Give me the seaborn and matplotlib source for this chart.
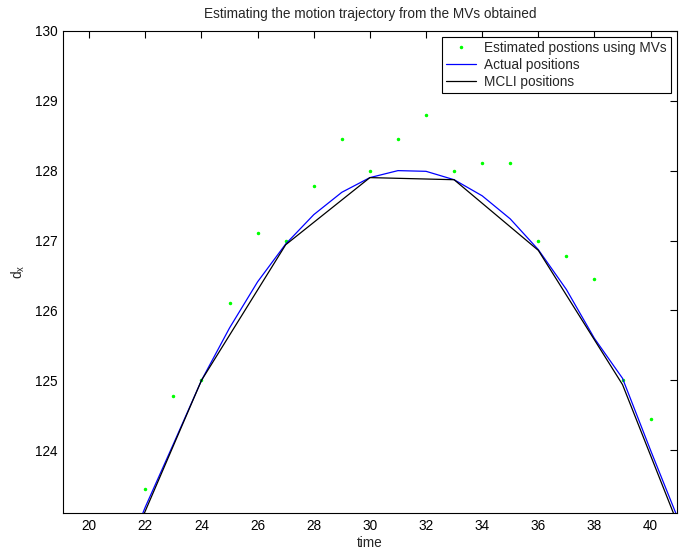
import numpy as np
import pandas as pd
import matplotlib
matplotlib.use('Agg')
import matplotlib.pyplot as plt
import seaborn as sns

# 읽어낸 값 (그림에서 추정)
est_t = [22, 23, 24, 25, 26, 27, 28, 29, 30, 31, 32, 33, 34, 35, 36, 37, 38, 39, 40]
est_dx = [123.45, 124.78, 125.0, 126.11, 127.11, 127.0, 127.78, 128.45, 128.0, 128.45,
          128.8, 128.0, 128.11, 128.11, 127.0, 126.78, 126.45, 125.0, 124.45]

act_t = list(range(21, 42))
act_dx = [122.2, 123.19, 124.09, 125.0, 125.75, 126.41, 126.95, 127.37, 127.69, 127.9, 128.0,
          127.99, 127.87, 127.64, 127.31, 126.87, 126.30, 125.6, 125.03, 124.0, 123.0]

mcli_t = [21, 24, 27, 30, 33, 36, 39, 42]
mcli_dx = [122.2, 125.0, 126.94, 127.9, 127.87, 126.86, 124.94, 121.9]

x_ticks = list(range(20, 41, 2))
y_ticks = [124, 125, 126, 127, 128, 129, 130]

sns.set_style('white')
plt.rcParams['font.family'] = ['Liberation Sans', 'DejaVu Sans']
fs = 9.8

fig = plt.figure(figsize=(6.81, 5.49), dpi=100)
ax = fig.add_axes([0.093, 0.065, 0.9007, 0.879])

df_est = pd.DataFrame({'time': est_t, 'dx': est_dx})
df_act = pd.DataFrame({'time': act_t, 'dx': act_dx})
df_mcli = pd.DataFrame({'time': mcli_t, 'dx': mcli_dx})

ax.plot(df_est['time'], df_est['dx'], linestyle='none', marker='.', markersize=3,
        color='#00ff00', label='Estimated postions using MVs')
sns.lineplot(data=df_act, x='time', y='dx', ax=ax, color='#0000ff', linewidth=0.9,
             label='Actual positions')
sns.lineplot(data=df_mcli, x='time', y='dx', ax=ax, color='black', linewidth=0.9,
             label='MCLI positions')

ax.set_xlim(19.08, 40.93)
ax.set_ylim(123.1, 130)
ax.set_xticks(x_ticks)
ax.set_yticks(y_ticks)
ax.tick_params(direction='in', length=5, width=0.8, top=True, right=True,
               labelsize=fs, pad=4, colors='black')
for s in ax.spines.values():
    s.set_visible(True)
    s.set_color('black')
    s.set_linewidth(0.8)

ax.set_title('Estimating the motion trajectory from the MVs obtained', fontsize=fs, pad=9)
ax.set_xlabel('time', fontsize=fs, labelpad=2)
ax.set_ylabel(r'd$_\mathregular{x}$', fontsize=fs, labelpad=6)

leg = ax.legend(loc='upper right', fontsize=fs, frameon=True, fancybox=False,
                edgecolor='black', framealpha=1, borderaxespad=0.45, handlelength=2.2,
                labelspacing=0.22, borderpad=0.3, handletextpad=0.6)
leg.get_frame().set_linewidth(0.8)

plt.savefig('out.png', dpi=100)
